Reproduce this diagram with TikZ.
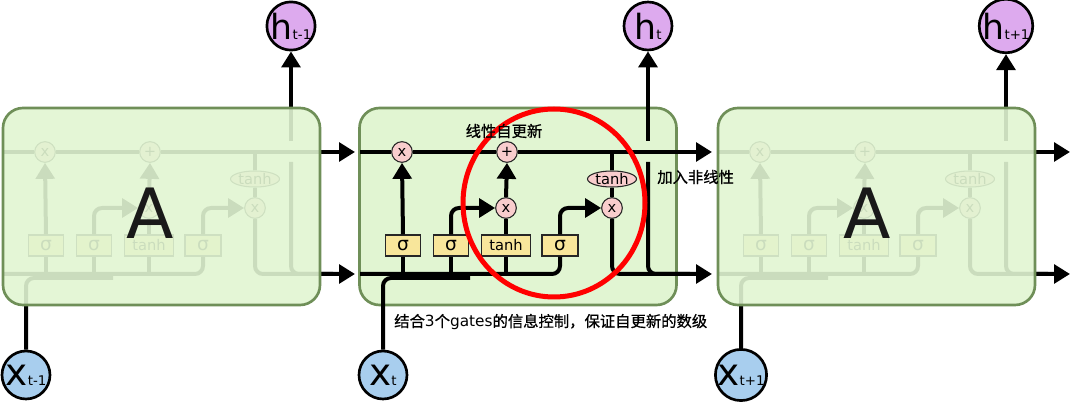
\documentclass[tikz,border=0pt]{standalone}
\usepackage{fontspec}
\setmainfont{DejaVu Sans}
\newfontfamily\cjk[FakeBold=0.8]{Noto Sans CJK SC}
\usetikzlibrary{arrows.meta,shapes.geometric}
\definecolor{boxfill}{HTML}{E1F5D2}
\definecolor{boxline}{HTML}{6F8F58}
\definecolor{oppink}{HTML}{F9CDCD}
\definecolor{gateyel}{HTML}{F8E69B}
\definecolor{hpurple}{HTML}{DDAAEE}
\definecolor{xblue}{HTML}{A8CEEE}
\tikzset{
  flow/.style={line width=3pt, draw=black},
  flowarrow/.style={flow, -{Triangle[length=12pt,width=14pt]}},
  cellbox/.style={draw=boxline, line width=2pt, fill=boxfill, rounded corners=15pt,
    minimum width=237.75pt, minimum height=147.75pt, inner sep=0pt},
  opcirc/.style={circle, draw=black!85, line width=0.8pt, fill=oppink, minimum size=15.5pt,
    inner sep=0pt, font=\fontsize{11}{11}\selectfont},
  tanhell/.style={ellipse, draw=black!85, line width=0.8pt, fill=oppink, minimum width=36.75pt,
    minimum height=12pt, inner sep=0pt, font=\fontsize{11}{11}\selectfont},
  gatebox/.style={rectangle, draw=black!85, line width=0.8pt, fill=gateyel, minimum height=15.75pt,
    inner sep=0pt},
  sigtext/.style={font=\fontsize{14}{14}\selectfont},
  tanhtext/.style={font=\fontsize{11}{11}\selectfont},
  hnode/.style={circle, draw=black, line width=2pt, fill=hpurple, minimum size=36pt, inner sep=0pt},
  xnode/.style={circle, draw=black, line width=2pt, fill=xblue, minimum size=36pt, inner sep=0pt},
  bigA/.style={font=\fontsize{52}{52}\selectfont, text=black!90, inner sep=0pt},
  cjktext/.style={font=\cjk\fontsize{11.5}{12}\selectfont, inner sep=0pt, text=black},
  ring/.style={ellipse, draw=red, line width=3.75pt, minimum width=136.5pt, minimum height=141pt, inner sep=0pt}
}
\newcommand\hlab[1]{{\fontsize{26}{26}\selectfont h}{\fontsize{10}{10}\selectfont #1}}
\newcommand\xlab[1]{{\fontsize{28}{28}\selectfont x}{\fontsize{10}{10}\selectfont #1}}
\newcommand\latin[1]{{\fontspec{DejaVu Sans}#1}}
% #1 shift, #2 prefix, #3 h subscript, #4 x subscript
\newcommand\lstminside[4]{%
\begin{scope}[shift={(#1,0)}]
  \node[opcirc] (#2fx) at (402,152) {x};
  \node[opcirc] (#2ax) at (507,152) {+};
  \node[opcirc] (#2ix) at (506,208) {x};
  \node[opcirc] (#2ox) at (612,208) {x};
  \node[tanhell] (#2th) at (612,179) {tanh};
  \node[gatebox, minimum width=26.25pt, sigtext] (#2sa) at (403,245.5) {σ};
  \node[gatebox, minimum width=26.25pt, sigtext] (#2sb) at (451,245.5) {σ};
  \node[gatebox, minimum width=36.75pt, tanhtext] (#2tb) at (506,245.5) {tanh};
  \node[gatebox, minimum width=27pt, sigtext] (#2sc) at (560,245.5) {σ};
  \node[hnode] (#2h) at (648,26) {\hlab{#3}};
  \node[xnode] (#2x) at (383,375) {\xlab{#4}};
  \coordinate (#2cin) at (360,152);
  \coordinate (#2cout) at (712,152);
  \coordinate (#2bin) at (360,274);
  \coordinate (#2bout) at (712,274);
  \coordinate (#2xj) at (470,278);
  \coordinate (#2hb) at (648,162);
  \coordinate (#2hj) at (690,274);
  \coordinate (#2ht) at (648,141);
  % cell state
  \draw[flow] (#2cin) -- (#2fx.west);
  \draw[flow] (#2fx.east) -- (#2ax.west);
  \draw[flowarrow] (#2ax.east) -- (#2cout);
  % bottom line and input
  \draw[flow, rounded corners=6pt] (#2bin) -| (#2sc.south);
  \draw[flow, rounded corners=6pt] (#2x.north) |- (#2xj);
  \draw[flow] (#2sa.south) -- (#2sa.south |- #2bin);
  \draw[flow] (#2sb.south) -- (#2sb.south |- #2bin);
  \draw[flow] (#2tb.south) -- (#2tb.south |- #2bin);
  % gates
  \draw[flowarrow] (#2sa.north) -- (#2fx.south);
  \draw[flowarrow, rounded corners=6pt] (#2sb.north) |- (#2ix.west);
  \draw[flow] (#2tb.north) -- (#2ix.south);
  \draw[flowarrow] (#2ix.north) -- (#2ax.south);
  \draw[flowarrow, rounded corners=6pt] (#2sc.north) |- (#2ox.west);
  \draw[flow] (#2th.north) -- (#2th.north |- #2cin);
  \draw[flow] (#2th.south) -- (#2ox.north);
  \draw[flowarrow, rounded corners=6pt] (#2ox.south) |- (#2bout);
  % output h
  \draw[flow, rounded corners=6pt] (#2hb) |- (#2hj);
  \draw[flowarrow] (#2ht) -- (#2h.south);
\end{scope}}
\begin{document}
\begin{tikzpicture}[x=0.75pt,y=-0.75pt]
\useasboundingbox (0,0) rectangle (1072,402);
% middle cell
\node[cellbox] (mbox) at (518,206.5) {};
\lstminside{0}{m}{t}{t}
% left cell
\lstminside{-357}{l}{t-1}{t-1}
\node[cellbox, fill opacity=0.9] (lbox) at (161.5,206.5) {};
\node[bigA] (la) at (150,213) {A};
% right cell
\lstminside{358}{r}{t+1}{t+1}
\node[cellbox, fill opacity=0.9] (rbox) at (876.5,206.5) {};
\node[bigA] (ra) at (867,213) {A};
% annotation
\node[ring] (focus) at (554,203) {};
\node[cjktext] (t1) at (504,131) {线性自更新};
\node[cjktext, anchor=west] (t2) at (657,177) {加入非线性};
\node[cjktext, anchor=west] (t3) at (394,322) {结合\latin{3}个\latin{gates}的信息控制，保证自更新的数级};
\end{tikzpicture}
\end{document}
